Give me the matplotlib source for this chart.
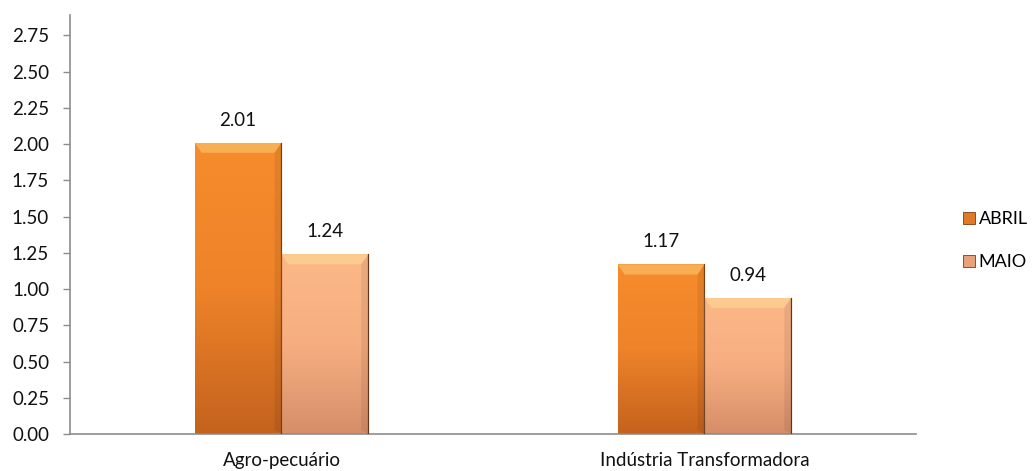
import numpy as np
import matplotlib
matplotlib.use("Agg")
import matplotlib.pyplot as plt
from matplotlib.colors import LinearSegmentedColormap
from matplotlib.patches import Polygon

# dados do gráfico
categorias = ["Agro-pecuário", "Indústria Transformadora"]
abril = [2.01, 1.17]
maio = [1.24, 0.94]
series = ["ABRIL", "MAIO"]
yticks = [0.00, 0.25, 0.50, 0.75, 1.00, 1.25, 1.50, 1.75, 2.00, 2.25, 2.50, 2.75]

cores = {
    "ABRIL": ("#F68C2C", "#EE8329", "#C4621E", "#E07A28"),
    "MAIO": ("#FCB888", "#F6AE80", "#D68E6A", "#E8A27A"),
}


def barra_bisel(ax, bar, c_topo, c_meio, c_base):
    # gradiente vertical recortado na barra
    x0, y0 = bar.get_x(), bar.get_y()
    w, h = bar.get_width(), bar.get_height()
    cmap = LinearSegmentedColormap.from_list("g", [c_base, c_meio, c_topo])
    grad = np.linspace(0, 1, 256).reshape(-1, 1)
    im = ax.imshow(grad, cmap=cmap, aspect="auto", origin="lower",
                   extent=[x0, x0 + w, y0, y0 + h], zorder=2)
    im.set_clip_path(bar)
    bar.set_facecolor("none")
    bar.set_edgecolor("#8a4515")
    # bisel superior
    dx = w * 0.08
    dy = 0.07
    topo = Polygon([[x0, y0 + h], [x0 + w, y0 + h], [x0 + w - dx, y0 + h - dy],
                    [x0 + dx, y0 + h - dy]], closed=True,
                   facecolor="#fff2a0", alpha=0.35, edgecolor="none", zorder=3)
    ax.add_patch(topo)
    dir_ = Polygon([[x0 + w, y0 + h], [x0 + w - dx, y0 + h - dy],
                    [x0 + w - dx, y0 + dy * 0.4], [x0 + w, y0]], closed=True,
                   facecolor="black", alpha=0.07, edgecolor="none", zorder=3)
    ax.add_patch(dir_)
    ax.plot([x0 + w, x0 + w], [y0, y0 + h], color="#4a240a", lw=0.9, alpha=0.7, zorder=4)


def main():
    plt.rcParams["font.family"] = ["Lato", "DejaVu Sans"]
    fig = plt.figure(figsize=(10.32, 4.71), dpi=100)
    ax = fig.add_axes([0.0678, 0.0786, 0.8198, 0.8894])

    fs = 13.5
    x = np.arange(len(categorias))
    largura = 0.205
    valores = {"ABRIL": abril, "MAIO": maio}
    handles = []
    for i, s in enumerate(series):
        pos = x + (i - 0.5) * largura
        barras = ax.bar(pos, valores[s], largura, zorder=2, linewidth=0.6, label=s)
        c_topo, c_meio, c_base, c_leg = cores[s]
        for b in barras:
            barra_bisel(ax, b, c_topo, c_meio, c_base)
        for p, v in zip(pos, valores[s]):
            ax.annotate(f"{v:.2f}", (p, v), xytext=(0, 10), textcoords="offset points",
                        ha="center", va="bottom", fontsize=fs, color="#111111")
        handles.append(plt.Rectangle((0, 0), 1, 1, facecolor=c_leg,
                                     edgecolor="#7a3d12", linewidth=0.6))

    ax.set_xlim(-0.5, 1.5)
    ax.set_ylim(0, 2.89)
    ax.set_yticks(yticks)
    ax.set_yticklabels([f"{t:.2f}" for t in yticks])
    ax.set_xticks(x)
    ax.set_xticklabels(categorias)

    for s in ["top", "right"]:
        ax.spines[s].set_visible(False)
    for s in ["left", "bottom"]:
        ax.spines[s].set_color("#8c8c8c")
        ax.spines[s].set_linewidth(1.2)
    ax.tick_params(axis="y", length=5, width=1, color="#8c8c8c", pad=10,
                   labelsize=fs, labelcolor="#111111")
    ax.tick_params(axis="x", length=0, pad=13, labelsize=fs, labelcolor="#111111")

    ax.legend(handles, series, loc="center left", bbox_to_anchor=(1.056, 0.462),
              frameon=False, fontsize=13, handlelength=0.65, handleheight=0.65,
              handletextpad=0.2, labelspacing=1.5, borderaxespad=0, borderpad=0)

    fig.savefig("out.png", dpi=100)


if __name__ == "__main__":
    main()
